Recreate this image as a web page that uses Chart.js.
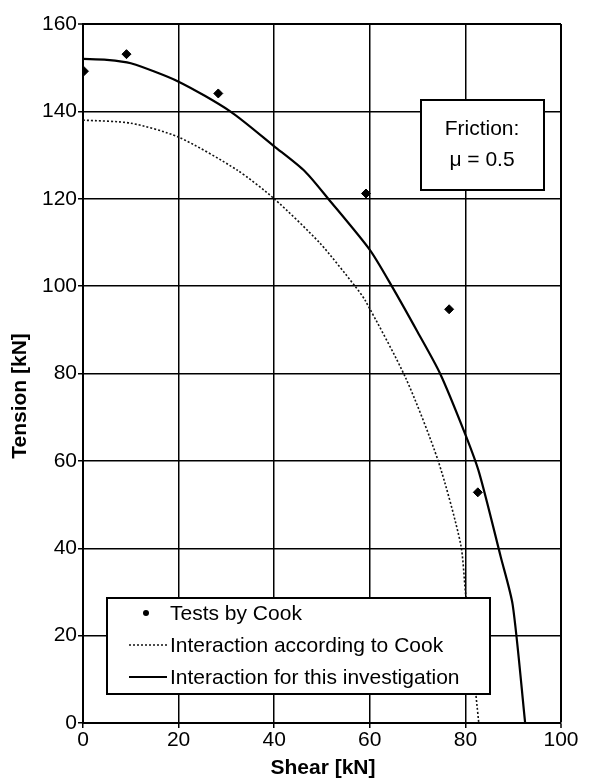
<!DOCTYPE html>
<html>
<head>
<meta charset="utf-8">
<script src="https://cdn.jsdelivr.net/npm/chart.js@4/dist/chart.umd.min.js"></script>
<style>
  html, body { margin: 0; padding: 0; background: #fff; }
  canvas { display: block; }
</style>
</head>
<body>
<canvas id="c" width="590" height="780" style="width:590px;height:780px"></canvas>
<script>
// ---- data ----
const testShear = [0.2, 9.1, 28.3, 59.2, 76.6, 82.6];
const testTension = [149.2, 153.1, 144.1, 121.2, 94.7, 52.8];

const cookShear = [0, 10, 20, 32.2, 40, 49.6, 56.9, 59, 67.5, 74.3, 79, 80, 82.8];
const cookTension = [138, 137.3, 134.1, 126.6, 120, 109.8, 100, 96.8, 79, 60, 41, 30, 0];

const invShear = [0, 5, 10, 20, 30.8, 40, 46.4, 51.3, 60, 64.6, 70, 74.7, 80, 82.9, 87.4, 89.9, 92.5];
const invTension = [152, 151.8, 151, 146.8, 140, 132, 126.3, 120, 108.3, 100, 89.5, 80, 66, 57.2, 38, 27, 0];

const seriesLabels = ["Tests by Cook", "Interaction according to Cook", "Interaction for this investigation"];
const xTitle = "Shear [kN]";
const yTitle = "Tension [kN]";
const noteLines = ["Friction:", "\u03bc = 0.5"];
const xRange = [0, 100, 20];
const yRange = [0, 160, 20];

const toPts = (xs, ys) => xs.map((x, i) => ({ x: x, y: ys[i] }));
const FONT = "'Liberation Sans', Arial, Helvetica, sans-serif";

const bgPlugin = {
  id: 'bg',
  beforeDraw(chart) {
    const ctx = chart.ctx;
    ctx.save();
    ctx.fillStyle = '#fff';
    ctx.fillRect(0, 0, chart.width, chart.height);
    ctx.restore();
  }
};

const overlayPlugin = {
  id: 'overlay',
  afterDraw(chart) {
    const ctx = chart.ctx;
    const ds = chart.data.datasets;
    ctx.save();
    // axis titles
    ctx.fillStyle = '#000';
    ctx.font = "bold 21px " + FONT;
    ctx.textAlign = 'center';
    ctx.textBaseline = 'middle';
    ctx.fillText(xTitle, 323, 768);
    ctx.save();
    ctx.translate(20, 396);
    ctx.rotate(-Math.PI / 2);
    ctx.fillText(yTitle, 0, 0);
    ctx.restore();

    // note box
    ctx.fillStyle = '#fff';
    ctx.fillRect(421, 100, 123, 90);
    ctx.strokeStyle = '#000';
    ctx.lineWidth = 2;
    ctx.strokeRect(421, 100, 123, 90);
    ctx.fillStyle = '#000';
    ctx.font = "21px " + FONT;
    ctx.fillText(noteLines[0], 482, 129);
    ctx.fillText(noteLines[1], 482, 160);

    // legend box
    ctx.fillStyle = '#fff';
    ctx.fillRect(107, 598, 383, 96);
    ctx.strokeRect(107, 598, 383, 96);
    ctx.textAlign = 'left';
    const rows = [613, 645, 677];
    ds.forEach((d, i) => {
      const y = rows[i];
      ctx.save();
      if (d.showLine === false) {
        ctx.fillStyle = '#000';
        ctx.beginPath();
        ctx.arc(146, y, 3, 0, Math.PI * 2);
        ctx.fill();
      } else {
        ctx.strokeStyle = d.borderColor;
        ctx.lineWidth = d.borderWidth;
        ctx.setLineDash(d.borderDash || []);
        ctx.beginPath();
        ctx.moveTo(129, y);
        ctx.lineTo(167, y);
        ctx.stroke();
      }
      ctx.restore();
      ctx.fillStyle = '#000';
      ctx.fillText(d.label, 170, y + 1);
    });
    ctx.restore();
  }
};

new Chart(document.getElementById('c'), {
  type: 'scatter',
  data: {
    datasets: [
      {
        label: seriesLabels[0],
        data: toPts(testShear, testTension),
        showLine: false,
        pointStyle: 'rectRot',
        pointRadius: 4.5,
        backgroundColor: '#000',
        borderColor: '#000',
        borderWidth: 1
      },
      {
        label: seriesLabels[1],
        data: toPts(cookShear, cookTension),
        showLine: true,
        borderColor: '#111',
        borderWidth: 1.6,
        borderDash: [2, 2],
        pointRadius: 0,
        tension: 0.25,
        fill: false
      },
      {
        label: seriesLabels[2],
        data: toPts(invShear, invTension),
        showLine: true,
        borderColor: '#000',
        borderWidth: 2.2,
        pointRadius: 0,
        tension: 0.25,
        fill: false
      }
    ]
  },
  options: {
    responsive: false,
    animation: false,
    devicePixelRatio: 1,
    layout: { padding: { top: 24, right: 29, left: 0, bottom: 0 } },
    plugins: {
      legend: { display: false },
      title: { display: false },
      tooltip: { enabled: false }
    },
    scales: {
      x: {
        type: 'linear',
        min: xRange[0], max: xRange[1],
        afterFit(s) { s.height = 57; },
        ticks: {
          stepSize: xRange[2],
          color: '#000',
          font: { family: FONT, size: 21 },
          padding: 0,
          maxRotation: 0
        },
        grid: {
          color: '#000',
          lineWidth: (c) => (c.index === 5 ? 2 : 1.5),
          drawTicks: true,
          tickLength: 5,
          tickColor: '#000',
          tickWidth: 1.5
        },
        border: { color: '#000', width: 2 }
      },
      y: {
        type: 'linear',
        min: yRange[0], max: yRange[1],
        afterFit(s) { s.width = 83; },
        ticks: {
          stepSize: yRange[2],
          color: '#000',
          font: { family: FONT, size: 21 },
          padding: 1
        },
        grid: {
          color: '#000',
          lineWidth: (c) => (c.index === 8 ? 2 : 1.5),
          drawTicks: true,
          tickLength: 5,
          tickColor: '#000',
          tickWidth: 1.5
        },
        border: { color: '#000', width: 2 }
      }
    }
  },
  plugins: [bgPlugin, overlayPlugin]
});
</script>
</body>
</html>
